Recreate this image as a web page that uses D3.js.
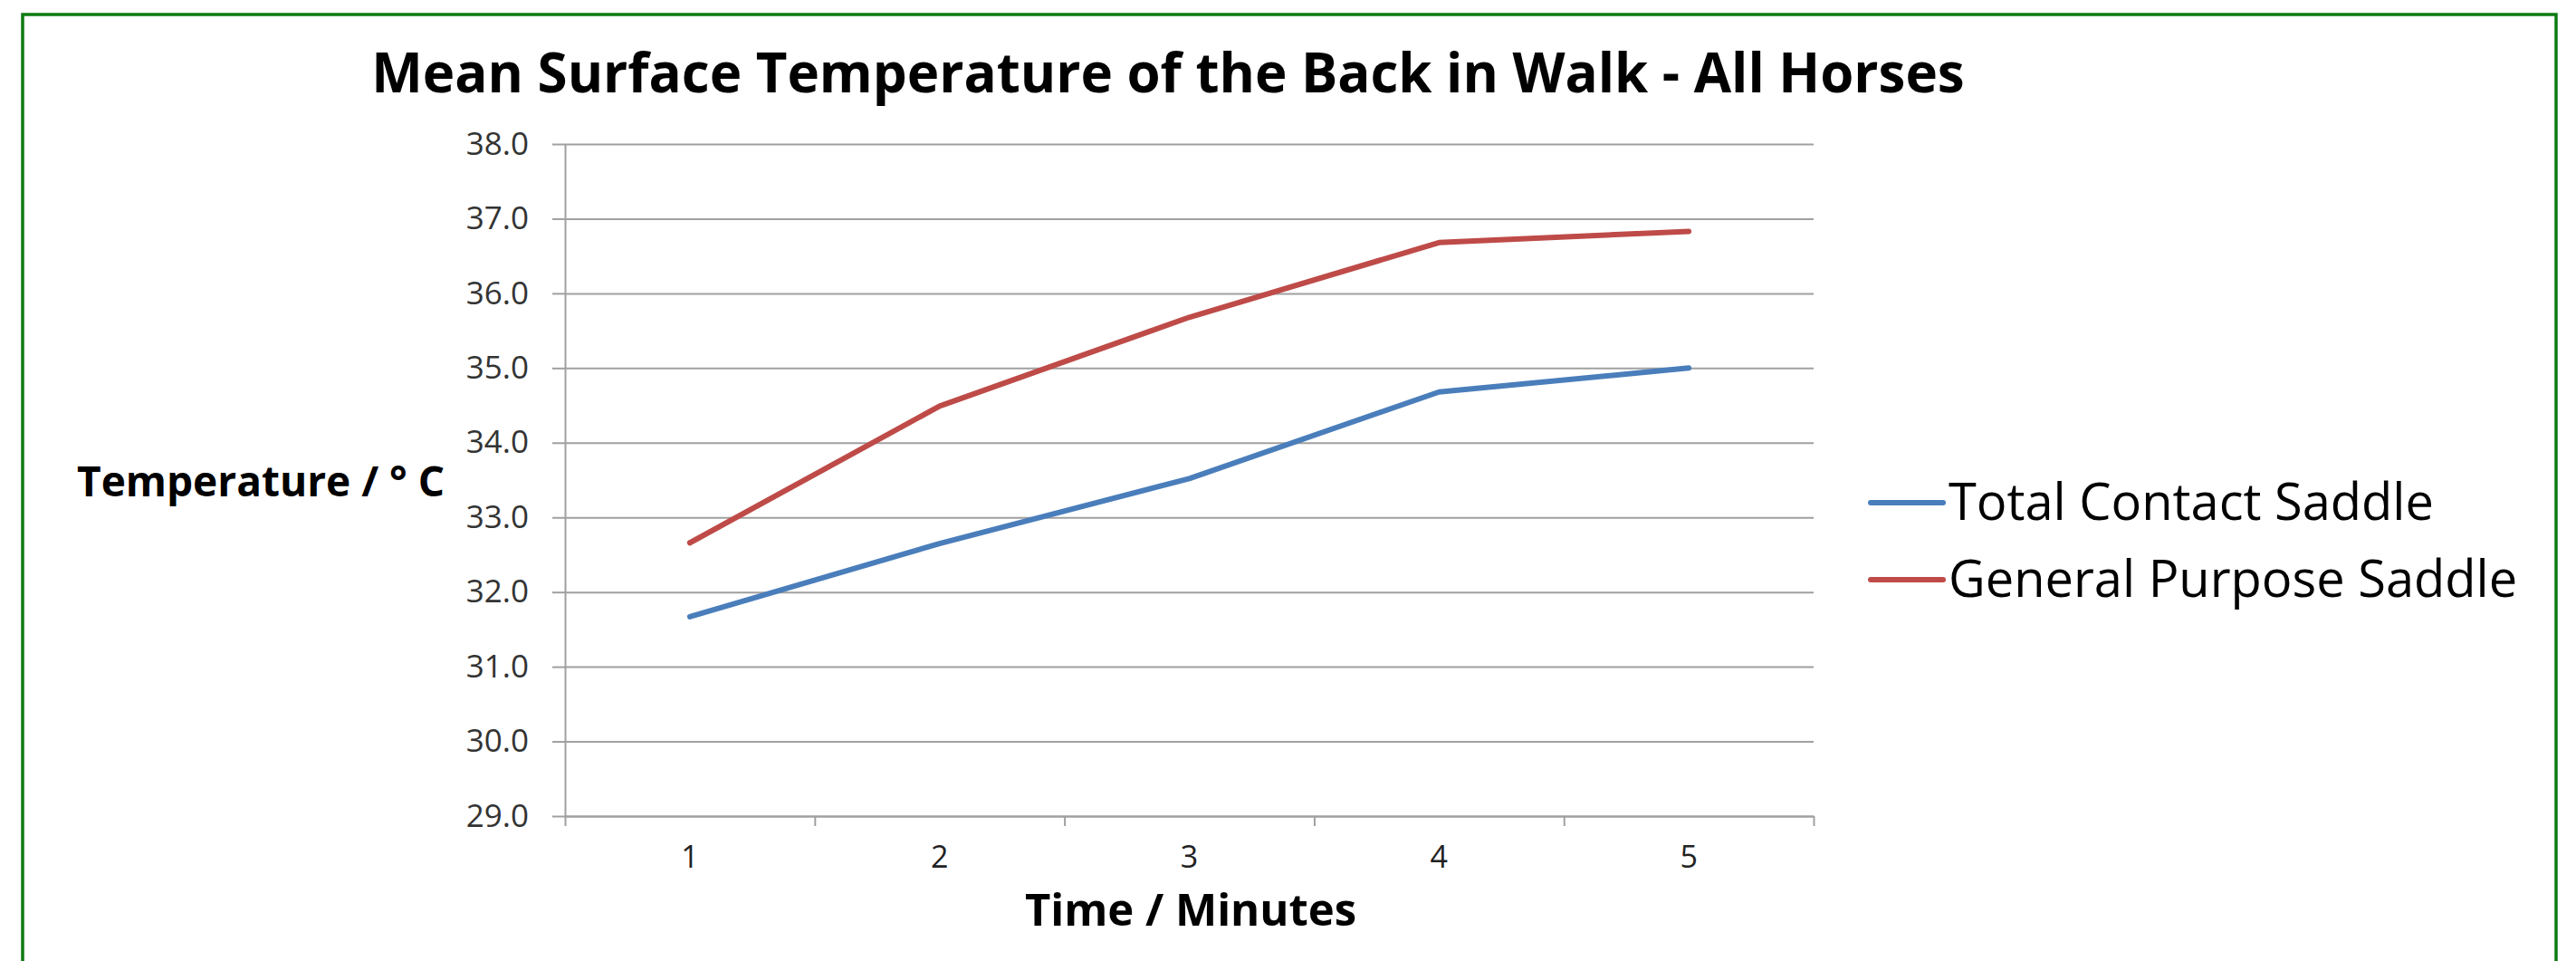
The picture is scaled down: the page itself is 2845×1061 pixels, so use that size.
<!DOCTYPE html>
<html>
<head>
<meta charset="utf-8">
<script src="https://cdn.jsdelivr.net/npm/d3@7"></script>
<style>
  body { margin:0; background:#fff; }
  svg { display:block; font-family:"Open Sans", sans-serif; }
</style>
</head>
<body>
<div id="chart"></div>
<script>
// data
var minutes=[1,2,3,4,5];
var totalContact=[31.67,32.65,33.52,34.68,35.0];
var generalPurpose=[32.66,34.49,35.68,36.68,36.83];
var seriesNames=["Total Contact Saddle","General Purpose Saddle"];
var seriesColors=["#4a7ebb","#be4b48"];
var yTicks=[29,30,31,32,33,34,35,36,37,38];

var W=2845, H=1061;
var margin={top:159, right:842, bottom:160, left:624},
	innerWidth=W-margin.left-margin.right,
	innerHeight=H-margin.top-margin.bottom;

var svg=d3.select("#chart").append("svg")
	.attr("width",W)
	.attr("height",H);

// outer green frame (bottom edge runs off the picture)
svg.append("rect")
	.attr("x",25).attr("y",16)
	.attr("width",2798).attr("height",1100)
	.style("fill","none")
	.style("stroke","#0d7a12")
	.style("stroke-width",3.5);

svg.append("text")
	.attr("x",1290).attr("y",102)
	.attr("text-anchor","middle")
	.style("font-weight","bold")
	.style("font-size","60px")
	.text("Mean Surface Temperature of the Back in Walk - All Horses");

var g=svg.append("g")
	.attr("transform","translate("+margin.left+","+margin.top+")");

var x=d3.scaleBand().domain(minutes).range([0,innerWidth]).padding(0);
var xEdge=d3.scaleLinear().domain([0,minutes.length]).range([0,innerWidth]);
var y=d3.scaleLinear().domain([29,38]).range([innerHeight,0]);

// gridlines
var grid=g.append("g")
	.call(d3.axisLeft(y).tickValues(yTicks).tickSize(-innerWidth).tickFormat(""));
grid.select(".domain").remove();
grid.selectAll("text").remove();
grid.selectAll("line")
	.style("stroke","#a0a0a0")
	.style("stroke-width",2);

// y axis
var yAxis=g.append("g")
	.call(d3.axisLeft(y).tickValues(yTicks).tickSize(14).tickSizeOuter(0).tickFormat(d3.format(".1f")));
yAxis.select(".domain").style("stroke","#a0a0a0").style("stroke-width",2);
yAxis.selectAll("line").style("stroke","#a0a0a0").style("stroke-width",2);
yAxis.selectAll("text")
	.attr("x",-40)
	.style("font-size","35px")
	.style("font-family","'Open Sans', sans-serif")
	.style("fill","#333");

// x axis tick marks sit between the categories
var xMarks=g.append("g")
	.attr("transform","translate(0,"+innerHeight+")")
	.call(d3.axisBottom(xEdge).tickValues(d3.range(0,minutes.length+1)).tickSize(11).tickSizeOuter(0).tickFormat(""));
xMarks.selectAll("text").remove();
xMarks.select(".domain").style("stroke","#a0a0a0").style("stroke-width",2);
xMarks.selectAll("line").style("stroke","#a0a0a0").style("stroke-width",2);

var xLabels=g.append("g")
	.attr("transform","translate(0,"+innerHeight+")")
	.call(d3.axisBottom(x).tickSize(0).tickPadding(33));
xLabels.select(".domain").remove();
xLabels.selectAll("text")
	.style("font-size","34px")
	.style("font-family","'Open Sans', sans-serif")
	.style("fill","#222");

// axis titles
svg.append("text")
	.attr("x",1315).attr("y",1022)
	.attr("text-anchor","middle")
	.style("font-weight","bold")
	.style("font-size","49px")
	.text("Time / Minutes");

svg.append("text")
	.attr("x",85).attr("y",548)
	.style("font-weight","bold")
	.style("font-size","46px")
	.text("Temperature / \u00b0 C");

// lines
var line=d3.line()
	.x(function(d,i){ return x(minutes[i])+x.bandwidth()/2; })
	.y(function(d){ return y(d); });

[totalContact,generalPurpose].forEach(function(s,i){
	g.append("path")
		.datum(s)
		.attr("d",line)
		.style("fill","none")
		.style("stroke",seriesColors[i])
		.style("stroke-width",6)
		.style("stroke-linecap","round")
		.style("stroke-linejoin","round");
});

// legend
var legend=svg.append("g")
	.attr("transform","translate(2066,555)");
var item=legend.selectAll(".item")
	.data(seriesNames)
	.enter().append("g")
	.attr("transform",function(d,i){ return "translate(0,"+(i*85)+")"; });
item.append("line")
	.attr("x1",0).attr("x2",80)
	.style("stroke",function(d,i){ return seriesColors[i]; })
	.style("stroke-width",6)
	.style("stroke-linecap","round");
item.append("text")
	.attr("x",86).attr("y",19)
	.style("font-size","56px")
	.text(function(d){ return d; });
</script>
</body>
</html>
